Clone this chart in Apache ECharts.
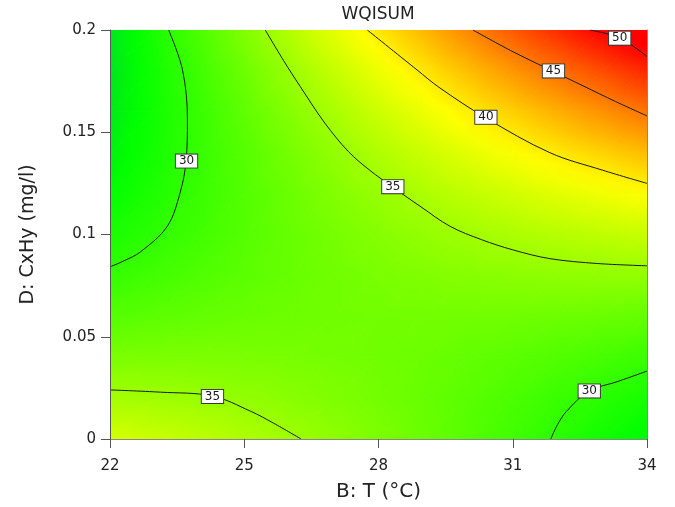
<!DOCTYPE html>
<html>
<head>
<meta charset="utf-8">
<script src="https://cdn.jsdelivr.net/npm/echarts@6/dist/echarts.min.js"></script>
<style>
  html, body { margin: 0; padding: 0; background: #ffffff; }
  #chart { width: 675px; height: 507px; }
</style>
</head>
<body>
<div id="chart"></div>
<script>
// Grid nodes of the response surface
const tempNodes = [22, 23, 24, 25, 26, 27, 28, 29, 30, 31, 32, 33, 34];          // B: T (°C)
const concNodes = [0, 0.02, 0.04, 0.06, 0.08, 0.1, 0.12, 0.14, 0.16, 0.18, 0.2]; // D: CxHy (mg/l)

// WQISUM at each node: one row per concentration (lowest first), one column per temperature
const wqiNodes = [
  [37.61, 37.08, 36.49, 35.85, 35.15, 34.40, 33.59, 32.73, 31.81, 30.83, 29.80, 28.71, 27.57],
  [35.41, 35.18, 34.89, 34.55, 34.15, 33.70, 33.19, 32.62, 32.00, 31.32, 30.59, 29.80, 28.96],
  [33.46, 33.53, 33.54, 33.49, 33.39, 33.24, 33.02, 32.76, 32.43, 32.06, 31.62, 31.13, 30.59],
  [31.75, 32.12, 32.42, 32.68, 32.88, 33.02, 33.11, 33.14, 33.11, 33.03, 32.90, 32.71, 32.46],
  [30.28, 30.95, 31.56, 32.11, 32.60, 33.05, 33.43, 33.76, 34.04, 34.26, 34.42, 34.53, 34.58],
  [29.06, 30.02, 30.93, 31.78, 32.58, 33.32, 34.00, 34.63, 35.20, 35.72, 36.18, 36.59, 36.94],
  [28.08, 29.34, 30.55, 31.70, 32.79, 33.83, 34.81, 35.74, 36.61, 37.43, 38.19, 38.89, 39.54],
  [27.34, 28.90, 30.41, 31.85, 33.25, 34.58, 35.87, 37.09, 38.26, 39.38, 40.44, 41.44, 42.39],
  [26.85, 28.71, 30.51, 32.26, 33.95, 35.58, 37.16, 38.69, 40.16, 41.57, 42.93, 44.23, 45.48],
  [26.60, 28.75, 30.86, 32.90, 34.89, 36.83, 38.71, 40.53, 42.30, 44.01, 45.67, 47.27, 48.81],
  [26.59, 29.05, 31.45, 33.79, 36.08, 38.31, 40.49, 42.61, 44.68, 46.69, 48.65, 50.55, 52.39]
];

// Axis ticks
const tempTicks = [22, 25, 28, 31, 34];
const concTicks = [0, 0.05, 0.1, 0.15, 0.2];

// Contour lines: [temperature, concentration]
const contour30Left = [[23.31, 0.2], [23.62, 0.1805], [23.73, 0.156], [23.70, 0.136], [23.57, 0.1207],
                       [23.28, 0.104], [22.68, 0.0915], [22.3, 0.0870], [22, 0.0842]];
const contour35Upper = [[25.47, 0.2], [25.88, 0.185], [26.25, 0.1724], [26.8, 0.1545], [27.33, 0.1405],
                        [27.8, 0.1315], [28.33, 0.123], [28.95, 0.1135], [29.6, 0.104], [30.3, 0.0975],
                        [31.0, 0.0925], [31.83, 0.0882], [32.9, 0.0858], [34, 0.0847]];
const contour40 = [[27.75, 0.2], [28.86, 0.1805], [29.35, 0.172], [30.4, 0.157], [31.83, 0.140],
                   [33, 0.1315], [34, 0.125]];
const contour45 = [[30.11, 0.2], [30.95, 0.19], [31.9, 0.1798], [32.57, 0.1727], [33.3, 0.165], [34, 0.158]];
const contour50 = [[32.73, 0.2], [33.4, 0.196], [34, 0.187]];
const contour35Lower = [[22, 0.024], [23.13, 0.0229], [24.29, 0.021], [25.14, 0.0136], [25.65, 0.0078], [26.27, 0]];
const contour30Lower = [[31.85, 0], [32.0, 0.007], [32.2, 0.0135], [32.7, 0.0234], [33.33, 0.028], [34, 0.0332]];

// Contour level labels: [temperature, concentration, level]
const contourLabels = [[33.39, 0.196, 50], [31.91, 0.180, 45], [30.40, 0.1573, 40], [28.32, 0.1234, 35],
                       [23.71, 0.1359, 30], [24.29, 0.0208, 35], [32.71, 0.0235, 30]];

// Colour ramp: green -> yellow -> red
const colorStops = [[26.5, [0, 228, 32]], [28.0, [0, 255, 0]], [39.5, [255, 255, 0]], [50.5, [255, 0, 0]], [53, [255, 0, 0]]];

function rampColor(v) {
  if (v <= colorStops[0][0]) return 'rgb(' + colorStops[0][1].join(',') + ')';
  for (let i = 0; i < colorStops.length - 1; i++) {
    const [v0, c0] = colorStops[i];
    const [v1, c1] = colorStops[i + 1];
    if (v <= v1) {
      const f = (v - v0) / (v1 - v0);
      const c = c0.map((x, k) => Math.round(x + (c1[k] - x) * f));
      return 'rgb(' + c.join(',') + ')';
    }
  }
  return 'rgb(' + colorStops[colorStops.length - 1][1].join(',') + ')';
}

// One triangle of the surface, shaded along the direction in which its value changes
function shadedTriangle(pts, vals) {
  const e1x = pts[1][0] - pts[0][0], e1y = pts[1][1] - pts[0][1];
  const e2x = pts[2][0] - pts[0][0], e2y = pts[2][1] - pts[0][1];
  const d1 = vals[1] - vals[0], d2 = vals[2] - vals[0];
  const det = e1x * e2y - e1y * e2x;
  const vmin = Math.min(vals[0], vals[1], vals[2]);
  const vmax = Math.max(vals[0], vals[1], vals[2]);
  let fill;
  if (Math.abs(det) < 1e-9 || vmax - vmin < 1e-6) {
    fill = rampColor(vals[0]);
  } else {
    const gx = (d1 * e2y - d2 * e1y) / det;
    const gy = (e1x * d2 - e2x * d1) / det;
    const g2 = gx * gx + gy * gy;
    const k0 = (vmin - vals[0]) / g2, k1 = (vmax - vals[0]) / g2;
    const stops = [];
    const n = 4;
    for (let s = 0; s <= n; s++) {
      stops.push({ offset: s / n, color: rampColor(vmin + (vmax - vmin) * s / n) });
    }
    fill = {
      type: 'linear', global: true,
      x: pts[0][0] + gx * k0, y: pts[0][1] + gy * k0,
      x2: pts[0][0] + gx * k1, y2: pts[0][1] + gy * k1,
      colorStops: stops
    };
  }
  return { type: 'polygon', shape: { points: pts }, style: { fill: fill, stroke: fill, lineWidth: 1 } };
}

const cells = [];
for (let j = 0; j < concNodes.length - 1; j++) {
  for (let i = 0; i < tempNodes.length - 1; i++) cells.push([i, j]);
}

function renderCell(params, api) {
  const i = api.value(0), j = api.value(1);
  const T0 = tempNodes[i], T1 = tempNodes[i + 1];
  const C0 = concNodes[j], C1 = concNodes[j + 1];
  const p00 = api.coord([T0, C0]), p10 = api.coord([T1, C0]);
  const p01 = api.coord([T0, C1]), p11 = api.coord([T1, C1]);
  const v00 = wqiNodes[j][i], v10 = wqiNodes[j][i + 1];
  const v01 = wqiNodes[j + 1][i], v11 = wqiNodes[j + 1][i + 1];
  return {
    type: 'group',
    children: [
      shadedTriangle([p00, p10, p11], [v00, v10, v11]),
      shadedTriangle([p00, p11, p01], [v00, v11, v01])
    ]
  };
}

const FONT = '"DejaVu Sans", "Liberation Sans", Arial, sans-serif';

function contourSeries(points) {
  return {
    type: 'line',
    xAxisIndex: 0,
    yAxisIndex: 0,
    data: points,
    smooth: 0.35,
    showSymbol: false,
    symbol: 'none',
    silent: true,
    clip: true,
    lineStyle: { color: '#1a1a1a', width: 1 },
    z: 4
  };
}

const chart = echarts.init(document.getElementById('chart'), null, { renderer: 'canvas' });

chart.setOption({
  animation: false,
  backgroundColor: '#ffffff',
  graphic: [{
    type: 'text',
    x: 378, y: 15,
    silent: true,
    style: {
      text: 'WQISUM', fill: '#222', font: '17px ' + FONT,
      textAlign: 'center', textVerticalAlign: 'middle'
    }
  }],
  grid: { left: 110, right: 28, top: 30, bottom: 66, show: false },
  xAxis: [
    {
      type: 'value', min: tempTicks[0], max: tempTicks[tempTicks.length - 1], interval: tempTicks[1] - tempTicks[0],
      position: 'bottom', z: 10,
      axisLine: { show: true, lineStyle: { color: '#555', width: 1 } },
      axisTick: { show: true, length: 9, lineStyle: { color: '#555' } },
      axisLabel: { fontFamily: FONT, fontSize: 15, color: '#222', margin: 20 },
      splitLine: { show: false },
      name: 'B: T (°C)', nameLocation: 'middle', nameGap: 43,
      nameTextStyle: { fontFamily: FONT, fontSize: 20, color: '#222' }
    },
    {
      type: 'value', min: tempTicks[0], max: tempTicks[tempTicks.length - 1],
      position: 'top', z: 10,
      axisLine: { show: true, lineStyle: { color: '#888', width: 1 } },
      axisTick: { show: false }, axisLabel: { show: false }, splitLine: { show: false }
    }
  ],
  yAxis: [
    {
      type: 'value', min: concTicks[0], max: concTicks[concTicks.length - 1], interval: concTicks[1] - concTicks[0],
      position: 'left', z: 10,
      axisLine: { show: true, lineStyle: { color: '#555', width: 1 } },
      axisTick: { show: true, length: 9, lineStyle: { color: '#555' } },
      axisLabel: { fontFamily: FONT, fontSize: 15, color: '#222', margin: 14 },
      splitLine: { show: false },
      name: 'D: CxHy (mg/l)', nameLocation: 'middle', nameGap: 72, nameRotate: 90,
      nameTextStyle: { fontFamily: FONT, fontSize: 19, color: '#222' }
    },
    {
      type: 'value', min: concTicks[0], max: concTicks[concTicks.length - 1],
      position: 'right', z: 10,
      axisLine: { show: true, lineStyle: { color: '#888', width: 1 } },
      axisTick: { show: false }, axisLabel: { show: false }, splitLine: { show: false }
    }
  ],
  series: [
    {
      type: 'custom',
      xAxisIndex: 0,
      yAxisIndex: 0,
      data: cells,
      renderItem: renderCell,
      clip: true,
      silent: true,
      emphasis: { disabled: true },
      z: 2
    },
    contourSeries(contour30Left),
    contourSeries(contour35Upper),
    contourSeries(contour40),
    contourSeries(contour45),
    contourSeries(contour50),
    contourSeries(contour35Lower),
    contourSeries(contour30Lower),
    {
      type: 'scatter',
      xAxisIndex: 0,
      yAxisIndex: 0,
      data: contourLabels,
      symbolSize: 1,
      itemStyle: { color: '#ffffff', opacity: 1 },
      silent: true,
      z: 6,
      label: {
        show: true,
        position: 'inside',
        formatter: p => String(p.value[2]),
        fontFamily: FONT,
        fontSize: 12,
        color: '#1a1a1a',
        opacity: 1,
        backgroundColor: '#ffffff',
        borderColor: '#3a3a3a',
        borderWidth: 1,
        padding: [1, 3, 0, 3]
      }
    }
  ]
});
</script>
</body>
</html>
